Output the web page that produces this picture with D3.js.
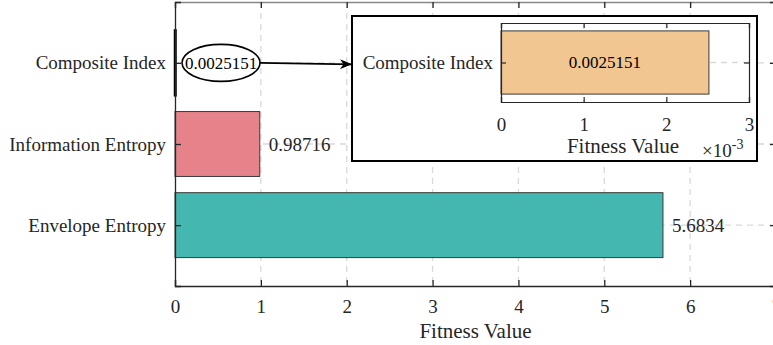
<!DOCTYPE html>
<html>
<head>
<meta charset="utf-8">
<script src="https://cdn.jsdelivr.net/npm/d3@7/dist/d3.min.js"></script>
<style>
  html, body { margin: 0; padding: 0; background: #fff; }
  svg text { font-family: "Liberation Serif", "Times New Roman", serif; fill: #262626; }
</style>
</head>
<body>
<svg id="chart" width="773" height="345"></svg>
<script>
// Fitness values per feature (bottom to top)
const categories = ["Envelope Entropy", "Information Entropy", "Composite Index"];
const fitness = [5.6834, 0.98716, 0.0025151];
const barColors = ["#44B8B0", "#E6838A", "#F2C691"];
const xTicks = [0, 1, 2, 3, 4, 5, 6, 7];
const insetTicks = [0, 0.001, 0.002, 0.003];
const insetTickLabels = ["0", "1", "2", "3"];

const svg = d3.select("#chart");
const fs = 19;        // tick and category labels
const fsTitle = 21;   // axis titles
const fsSmall = 17;   // values on the composite index
const textCol = "#262626";
const gridCol = "#d9d9d9";

// Main axes
const M = { left: 175, right: 776, top: 2, bottom: 286 };
const x = d3.scaleLinear().domain([0, 7]).range([M.left, M.right]);
const y = d3.scaleLinear().domain([0.25, 3.75]).range([M.bottom, M.top]);
const yPos = d => y(categories.indexOf(d) + 1);
const barH = y(0) - y(0.8);

const main = svg.append("g");

// dashed grid
main.append("g").selectAll("line").data(xTicks.slice(1, -1)).join("line")
  .attr("x1", d => x(d)).attr("x2", d => x(d))
  .attr("y1", M.top).attr("y2", M.bottom)
  .attr("stroke", gridCol).attr("stroke-width", 1.3).attr("stroke-dasharray", "6,5");
main.append("g").selectAll("line").data(categories).join("line")
  .attr("x1", M.left).attr("x2", M.right)
  .attr("y1", d => yPos(d)).attr("y2", d => yPos(d))
  .attr("stroke", gridCol).attr("stroke-width", 1.3).attr("stroke-dasharray", "6,5");

// bars
main.append("g").selectAll("rect").data(categories).join("rect")
  .attr("x", x(0))
  .attr("y", d => yPos(d) - barH / 2)
  .attr("width", (d, i) => Math.max(x(fitness[i]) - x(0), 0.5))
  .attr("height", barH)
  .attr("fill", (d, i) => barColors[i])
  .attr("stroke", (d, i) => i === 2 ? "#000" : "#3a3a3a")
  .attr("stroke-width", (d, i) => i === 2 ? 2.5 : 1);

// value labels beside the two large bars
main.append("g").selectAll("text").data(categories.slice(0, 2)).join("text")
  .attr("x", (d, i) => x(fitness[i]) + 9)
  .attr("y", d => yPos(d))
  .attr("dy", "0.35em")
  .attr("font-size", fs)
  .style("fill", textCol)
  .text((d, i) => String(fitness[i]));

// axes
const xAxis = d3.axisBottom(x).tickValues(xTicks).tickSize(-6).tickPadding(14).tickFormat(d3.format("d"));
const gx = main.append("g").attr("transform", `translate(0,${M.bottom})`).call(xAxis);
const xTop = d3.axisTop(x).tickValues(xTicks).tickSize(-6).tickFormat("");
const gxt = main.append("g").attr("transform", `translate(0,${M.top})`).call(xTop);
const yAxis = d3.axisLeft(y).tickValues([1, 2, 3]).tickSize(-6).tickPadding(9).tickFormat(d => categories[d - 1]);
const gy = main.append("g").attr("transform", `translate(${M.left},0)`).call(yAxis);
const yRight = d3.axisRight(y).tickValues([1, 2, 3]).tickSize(-6).tickFormat("");
const gyr = main.append("g").attr("transform", `translate(${M.right},0)`).call(yRight);
[gx, gxt, gy, gyr].forEach(g => {
  g.attr("font-size", fs).attr("font-family", null);
  g.selectAll(".domain").attr("stroke", textCol).attr("stroke-width", 1.3);
  g.selectAll(".tick line").attr("stroke", textCol).attr("stroke-width", 1.3);
  g.selectAll("text").style("fill", textCol);
});
gxt.select(".domain").attr("stroke", "#888");

main.append("text")
  .attr("x", (M.left + M.right) / 2).attr("y", 338)
  .attr("text-anchor", "middle").attr("font-size", fsTitle)
  .text("Fitness Value");

// Callout for the tiny Composite Index bar
const cy = yPos("Composite Index");
const ell = { cx: 221, rx: 39, ry: 18.5 };
main.append("ellipse")
  .attr("cx", ell.cx).attr("cy", cy).attr("rx", ell.rx).attr("ry", ell.ry)
  .attr("fill", "#fff").attr("stroke", "#000").attr("stroke-width", 1.6);
main.append("text")
  .attr("x", ell.cx).attr("y", cy).attr("dy", "0.35em")
  .attr("text-anchor", "middle").attr("font-size", fsSmall)
  .style("fill", "#000")
  .text(String(fitness[2]));

const defs = svg.append("defs");
defs.append("marker").attr("id", "arrow")
  .attr("viewBox", "0 0 12 10").attr("refX", 12).attr("refY", 5)
  .attr("markerWidth", 12).attr("markerHeight", 10).attr("markerUnits", "userSpaceOnUse")
  .attr("orient", "auto")
  .append("path").attr("d", "M0,0 L12,5 L0,10 L3.5,5 Z").attr("fill", "#000");

// Inset axes
const IB = { x0: 352, x1: 757, y0: 16, y1: 161 };
main.append("line")
  .attr("x1", ell.cx + ell.rx).attr("y1", cy)
  .attr("x2", IB.x0).attr("y2", cy + 1.5)
  .attr("stroke", "#000").attr("stroke-width", 1.6)
  .attr("marker-end", "url(#arrow)");

const inset = svg.append("g");
inset.append("rect")
  .attr("x", IB.x0).attr("y", IB.y0)
  .attr("width", IB.x1 - IB.x0).attr("height", IB.y1 - IB.y0)
  .attr("fill", "#fff").attr("stroke", "#000").attr("stroke-width", 2);

const I = { left: 501, right: 749, top: 23, bottom: 102 };
const xi = d3.scaleLinear().domain([0, 0.003]).range([I.left, I.right]);
const yi = d3.scaleLinear().domain([0.5, 1.5]).range([I.bottom, I.top]);
const barHi = yi(0) - yi(0.8);

inset.append("g").selectAll("line").data(insetTicks.slice(1, -1)).join("line")
  .attr("x1", d => xi(d)).attr("x2", d => xi(d))
  .attr("y1", I.top).attr("y2", I.bottom)
  .attr("stroke", gridCol).attr("stroke-width", 1.3).attr("stroke-dasharray", "6,5");
inset.append("line")
  .attr("x1", I.left).attr("x2", I.right).attr("y1", yi(1)).attr("y2", yi(1))
  .attr("stroke", gridCol).attr("stroke-width", 1.3).attr("stroke-dasharray", "6,5");

inset.append("rect")
  .attr("x", xi(0)).attr("y", yi(1) - barHi / 2)
  .attr("width", xi(fitness[2]) - xi(0)).attr("height", barHi)
  .attr("fill", barColors[2]).attr("stroke", "#3a3a3a").attr("stroke-width", 1);
inset.append("text")
  .attr("x", (xi(0) + xi(fitness[2])) / 2).attr("y", yi(1)).attr("dy", "0.35em")
  .attr("text-anchor", "middle").attr("font-size", fsSmall).style("fill", "#000")
  .text(String(fitness[2]));

const gix = inset.append("g").attr("transform", `translate(0,${I.bottom})`)
  .call(d3.axisBottom(xi).tickValues(insetTicks).tickSize(-5).tickPadding(16).tickFormat((d, i) => insetTickLabels[i]));
const gixt = inset.append("g").attr("transform", `translate(0,${I.top})`)
  .call(d3.axisTop(xi).tickValues(insetTicks).tickSize(-5).tickFormat(""));
const giy = inset.append("g").attr("transform", `translate(${I.left},0)`)
  .call(d3.axisLeft(yi).tickValues([1]).tickSize(-5).tickPadding(8).tickFormat(() => categories[2]));
const giyr = inset.append("g").attr("transform", `translate(${I.right},0)`)
  .call(d3.axisRight(yi).tickValues([1]).tickSize(-5).tickFormat(""));
[gix, gixt, giy, giyr].forEach(g => {
  g.attr("font-size", fs).attr("font-family", null);
  g.selectAll(".domain").attr("stroke", textCol).attr("stroke-width", 1.2);
  g.selectAll(".tick line").attr("stroke", textCol).attr("stroke-width", 1.2);
  g.selectAll("text").style("fill", textCol);
});

inset.append("text")
  .attr("x", 623).attr("y", 153)
  .attr("text-anchor", "middle").attr("font-size", fsTitle)
  .text("Fitness Value");
const exp = inset.append("text")
  .attr("x", 702).attr("y", 157).attr("font-size", fs);
exp.append("tspan").text("\u00d710");
exp.append("tspan").attr("dy", -8).attr("font-size", 14).text("-3");
</script>
</body>
</html>
